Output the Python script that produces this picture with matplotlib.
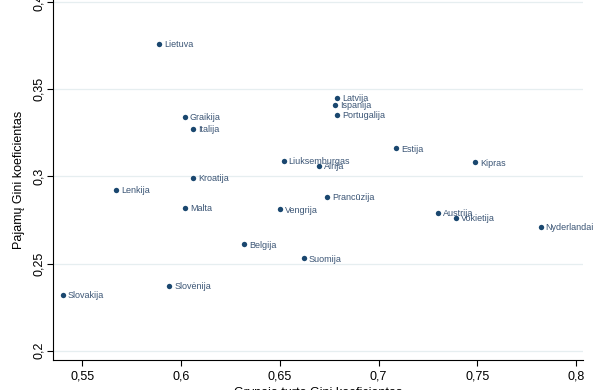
import matplotlib
matplotlib.use("Agg")
import matplotlib.pyplot as plt
from matplotlib.ticker import FuncFormatter

# net wealth Gini (x) vs income Gini (y)
countries = ["Lietuva", "Latvija", "Ispanija", "Portugalija", "Graikija", "Italija",
             "Estija", "Liuksemburgas", "Airija", "Kipras", "Kroatija", "Lenkija",
             "Prancūzija", "Malta", "Vengrija", "Austrija", "Vokietija", "Nyderlandai",
             "Belgija", "Suomija", "Slovėnija", "Slovakija"]
wealth_gini = [0.589, 0.679, 0.678, 0.679, 0.602, 0.606,
               0.709, 0.652, 0.670, 0.749, 0.606, 0.567,
               0.674, 0.602, 0.650, 0.730, 0.739, 0.782,
               0.632, 0.662, 0.594, 0.540]
income_gini = [0.376, 0.345, 0.341, 0.335, 0.334, 0.327,
               0.316, 0.309, 0.306, 0.308, 0.299, 0.292,
               0.288, 0.282, 0.281, 0.279, 0.276, 0.271,
               0.261, 0.253, 0.237, 0.232]
x_ticks = [0.55, 0.6, 0.65, 0.7, 0.75, 0.8]
y_ticks = [0.2, 0.25, 0.3, 0.35, 0.4]

plt.rcParams['font.family'] = ['Liberation Sans', 'DejaVu Sans']
navy = '#1a476f'

fig = plt.figure(figsize=(6, 3.9), dpi=100)
ax = fig.add_axes([0.0888, 0.0769, 0.9717 - 0.0888, 1.0 - 0.0769])

ax.scatter(wealth_gini, income_gini, s=15, color=navy, zorder=3, linewidths=0)
for name, xv, yv in zip(countries, wealth_gini, income_gini):
    ax.annotate(name, (xv, yv), xytext=(3.5, -0.5), textcoords='offset points',
                fontsize=6.5, color='#3b5575', va='center', ha='left')

ax.set_xlim(0.5353, 0.8035)
ax.set_ylim(0.1947, 0.4011)
ax.set_xticks(x_ticks)
ax.set_yticks(y_ticks)
fmt = FuncFormatter(lambda v, p: ('%g' % v).replace('.', ','))
ax.xaxis.set_major_formatter(fmt)
ax.yaxis.set_major_formatter(fmt)
ax.tick_params(axis='both', direction='out', length=4, width=0.8, labelsize=9, colors='black')
ax.tick_params(axis='y', pad=2)
for lab in ax.get_yticklabels():
    lab.set_rotation(90)
    lab.set_va('center')

ax.grid(axis='y', color='#e6eef0', linewidth=0.9)
ax.set_axisbelow(True)
for side in ['top', 'right']:
    ax.spines[side].set_visible(False)
for side in ['left', 'bottom']:
    ax.spines[side].set_linewidth(0.8)

ax.set_ylabel('Pajamų Gini koeficientas', fontsize=9, labelpad=6)
ax.set_xlabel('Grynojo turto Gini koeficientas', fontsize=9, labelpad=3)

fig.savefig('out.png', dpi=100)
